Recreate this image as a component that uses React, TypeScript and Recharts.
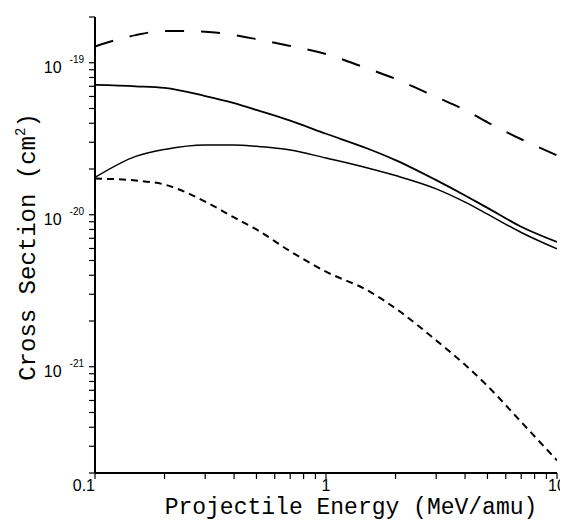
import { Label, Line, LineChart, XAxis, YAxis } from "recharts";

// Projectile energy in MeV/amu
const energy = [0.1, 0.15, 0.2, 0.3, 0.4, 0.5, 0.7, 1, 1.5, 2, 3, 4, 5, 7, 10];

// Cross sections in cm^2
const upperSolid = [
  7.15e-20, 7.0e-20, 6.83e-20, 6.04e-20, 5.43e-20, 4.89e-20, 4.16e-20, 3.41e-20,
  2.74e-20, 2.29e-20, 1.69e-20, 1.34e-20, 1.11e-20, 8.34e-21, 6.62e-21,
];
const lowerSolid = [
  1.76e-20, 2.42e-20, 2.69e-20, 2.88e-20, 2.88e-20, 2.82e-20, 2.67e-20, 2.36e-20,
  2.04e-20, 1.81e-20, 1.48e-20, 1.21e-20, 1.01e-20, 7.64e-21, 5.96e-21,
];
const longDash = [
  1.28e-19, 1.52e-19, 1.62e-19, 1.6e-19, 1.52e-19, 1.43e-19, 1.29e-19, 1.14e-19,
  9.2e-20, 7.83e-20, 5.95e-20, 4.89e-20, 4.06e-20, 3.14e-20, 2.46e-20,
];
const shortDash = [
  1.73e-20, 1.68e-20, 1.58e-20, 1.22e-20, 9.6e-21, 8.0e-21, 5.75e-21, 4.22e-21,
  3.2e-21, 2.42e-21, 1.49e-21, 1.03e-21, 7.48e-22, 4.33e-22, 2.42e-22,
];

const xTicks = [
  0.1, 0.2, 0.3, 0.4, 0.5, 0.6, 0.7, 0.8, 0.9, 1, 2, 3, 4, 5, 6, 7, 8, 9, 10,
];
const xLabels = [0.1, 1, 10];

const yTicks = [
  2e-22, 3e-22, 4e-22, 5e-22, 6e-22, 7e-22, 8e-22, 9e-22,
  1e-21, 2e-21, 3e-21, 4e-21, 5e-21, 6e-21, 7e-21, 8e-21, 9e-21,
  1e-20, 2e-20, 3e-20, 4e-20, 5e-20, 6e-20, 7e-20, 8e-20, 9e-20,
  1e-19, 2e-19,
];
const yLabels = [1e-21, 1e-20, 1e-19];

const rows = energy.map((e, i) => ({
  e,
  upper: upperSolid[i],
  lower: lowerSolid[i],
  longDash: longDash[i],
  shortDash: shortDash[i],
}));

const sans = "'Liberation Sans', Arial, Helvetica, sans-serif";
const mono = "'Courier New', 'Liberation Mono', monospace";

function XTick({ x, y, payload }: any) {
  const v = payload.value;
  if (!xLabels.includes(v)) return null;
  return (
    <text
      x={x}
      y={y}
      dy={10}
      textAnchor={v === 0.1 ? "end" : "middle"}
      fontFamily={sans}
      fontSize={16}
      fill="#000"
    >
      {String(v)}
    </text>
  );
}

function YTick({ x, y, payload }: any) {
  const v = payload.value;
  if (!yLabels.some((d) => Math.abs(v / d - 1) < 1e-6)) return null;
  const exp = Math.round(Math.log10(v));
  return (
    <text x={x} y={y} dy={10} textAnchor="end" fontFamily={sans} fill="#000">
      <tspan fontSize={16}>10</tspan>
      <tspan dx={8} dy={-10} fontSize={10}>
        {String(exp)}
      </tspan>
    </text>
  );
}

export default function App() {
  return (
    <LineChart
      width={560}
      height={513}
      data={rows}
      margin={{ top: 9, right: 11, bottom: 0, left: 0 }}
      style={{ background: "#fff" }}
    >
      <XAxis
        dataKey="e"
        type="number"
        scale="log"
        domain={[0.1, 10]}
        ticks={xTicks}
        interval={0}
        allowDataOverflow
        height={48}
        tickSize={6}
        tickMargin={2}
        tick={<XTick />}
        axisLine={{ stroke: "#000", strokeWidth: 2 }}
        tickLine={{ stroke: "#000", strokeWidth: 1.2 }}
      >
        <Label
          content={({ viewBox }: any) => (
            <text
              x={viewBox.x + 256}
              y={viewBox.y + 41}
              textAnchor="middle"
              fontFamily={mono}
              fontSize={23}
              fill="#000"
            >
              Projectile Energy (MeV/amu)
            </text>
          )}
        />
      </XAxis>
      <XAxis
        xAxisId="top"
        orientation="top"
        dataKey="e"
        type="number"
        scale="log"
        domain={[0.1, 10]}
        allowDataOverflow
        height={0}
        tick={false}
        tickLine={false}
        axisLine={{ stroke: "#000", strokeWidth: 2.5 }}
      />
      <YAxis
        type="number"
        scale="log"
        domain={[2e-22, 2e-19]}
        ticks={yTicks}
        interval={0}
        allowDataOverflow
        width={87}
        tickSize={6}
        tickMargin={5}
        tick={<YTick />}
        axisLine={{ stroke: "#000", strokeWidth: 2 }}
        tickLine={{ stroke: "#000", strokeWidth: 1.2 }}
      >
        <Label
          content={({ viewBox }: any) => {
            const cx = 27;
            const cy = viewBox.y + 230;
            return (
              <text
                x={cx}
                y={cy}
                transform={`rotate(-90 ${cx} ${cy})`}
                textAnchor="middle"
                fontFamily={mono}
                fontSize={24}
                fill="#000"
              >
                Cross Section (cm
                <tspan dy={-10} fontSize={14}>
                  2
                </tspan>
                <tspan dy={10}>)</tspan>
              </text>
            );
          }}
        />
      </YAxis>
      <YAxis
        yAxisId="right"
        orientation="right"
        type="number"
        scale="log"
        domain={[2e-22, 2e-19]}
        allowDataOverflow
        width={0}
        tick={false}
        tickLine={false}
        axisLine={{ stroke: "#000", strokeWidth: 1.5 }}
      />
      <Line
        dataKey="longDash"
        type="monotone"
        stroke="#000"
        strokeWidth={2}
        strokeDasharray="19 17"
        dot={false}
        isAnimationActive={false}
      />
      <Line
        dataKey="upper"
        type="monotone"
        stroke="#000"
        strokeWidth={1.8}
        dot={false}
        isAnimationActive={false}
      />
      <Line
        dataKey="lower"
        type="monotone"
        stroke="#000"
        strokeWidth={1.5}
        dot={false}
        isAnimationActive={false}
      />
      <Line
        dataKey="shortDash"
        type="monotone"
        stroke="#000"
        strokeWidth={2}
        strokeDasharray="7 5"
        dot={false}
        isAnimationActive={false}
      />
    </LineChart>
  );
}
